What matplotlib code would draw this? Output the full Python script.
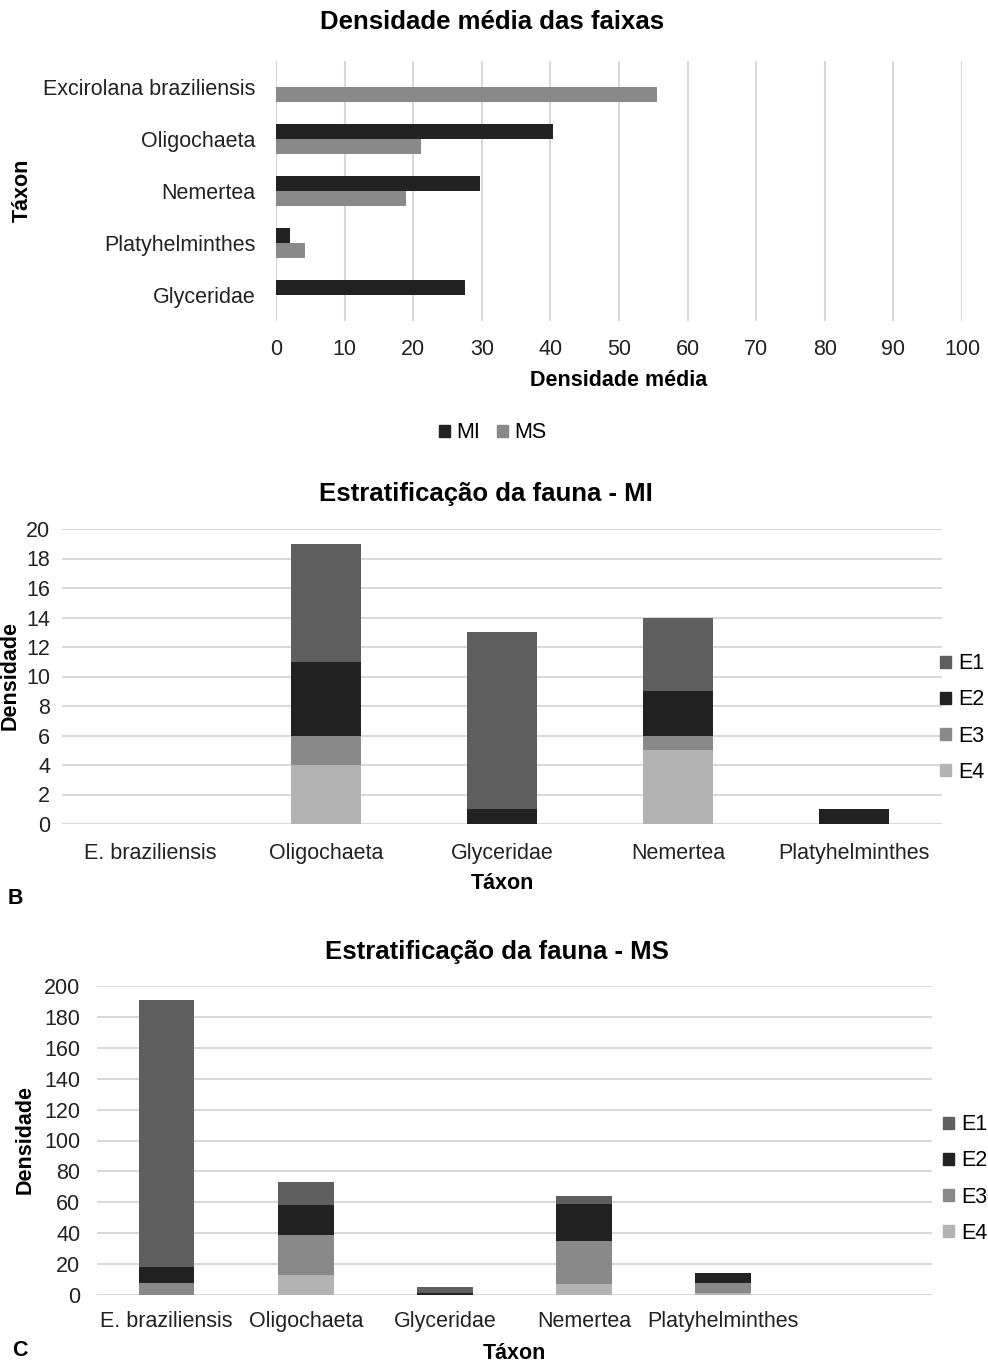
import matplotlib
matplotlib.use("Agg")
import matplotlib.pyplot as plt
from matplotlib.patches import Patch
import numpy as np

plt.rcParams['font.family'] = ['Liberation Sans', 'DejaVu Sans']

# ---- Data: chart A (mean density per band) ----
taxa_a = ["Excirolana braziliensis", "Oligochaeta", "Nemertea", "Platyhelminthes", "Glyceridae"]
mi_a = [0, 40.4, 29.8, 2.1, 27.6]
ms_a = [55.5, 21.1, 18.9, 4.3, 0]
xticks_a = [0, 10, 20, 30, 40, 50, 60, 70, 80, 90, 100]

# ---- Data: chart B (MI stratification) ----
taxa_b = ["E. braziliensis", "Oligochaeta", "Glyceridae", "Nemertea", "Platyhelminthes"]
b_e4 = [0, 4, 0, 5, 0]
b_e3 = [0, 2, 0, 1, 0]
b_e2 = [0, 5, 1, 3, 1]
b_e1 = [0, 8, 12, 5, 0]
yticks_b = [0, 2, 4, 6, 8, 10, 12, 14, 16, 18, 20]

# ---- Data: chart C (MS stratification) ----
taxa_c = ["E. braziliensis", "Oligochaeta", "Glyceridae", "Nemertea", "Platyhelminthes", ""]
c_e4 = [0, 13, 0, 7, 1, 0]
c_e3 = [8, 26, 0, 28, 7, 0]
c_e2 = [10, 19, 1, 24, 6, 0]
c_e1 = [173, 15, 4, 5, 0, 0]
yticks_c = [0, 20, 40, 60, 80, 100, 120, 140, 160, 180, 200]

series_names = ["E1", "E2", "E3", "E4"]
colors = {"E1": "#5f5f5f", "E2": "#222222", "E3": "#898989", "E4": "#b3b3b3",
          "MI": "#222222", "MS": "#898989"}
GRID = "#d9d9d9"
TICK_FS = 15.5
TITLE_FS = 18.5
LABEL_FS = 15.5

W, H = 988, 1364
fig = plt.figure(figsize=(W / 100, H / 100), dpi=100)


def ax_px(left, top, right, bottom):
    return fig.add_axes([left / W, 1 - bottom / H, (right - left) / W, (bottom - top) / H])


def clean(ax):
    for s in ax.spines.values():
        s.set_visible(False)
    ax.tick_params(length=0, labelsize=TICK_FS, colors="#222222")


# ---------------- Chart A ----------------
axA = ax_px(276, 61, 962, 321)
clean(axA)
y = np.arange(len(taxa_a))
bh = 0.28
axA.barh(y - bh / 2, mi_a, height=bh, color=colors["MI"], label="MI", zorder=3)
axA.barh(y + bh / 2, ms_a, height=bh, color=colors["MS"], label="MS", zorder=3)
axA.set_ylim(len(taxa_a) - 0.5, -0.5)
axA.set_xlim(0, 100)
axA.set_xticks(xticks_a)
axA.set_yticks(y)
axA.set_yticklabels(taxa_a)
axA.xaxis.grid(True, color=GRID, lw=1.5, zorder=0)
axA.set_axisbelow(True)
axA.tick_params(axis="x", pad=13)
axA.tick_params(axis="y", pad=14.5)
axA.set_xlabel("Densidade média", fontsize=LABEL_FS, fontweight="bold", labelpad=7)
fig.text(22 / W, 1 - 190 / H, "Táxon", rotation=90, fontsize=LABEL_FS, fontweight="bold",
         ha="center", va="center")
fig.text(492 / W, 1 - 22 / H, "Densidade média das faixas", fontsize=TITLE_FS,
         fontweight="bold", ha="center", va="center")
hA = [Patch(color=colors["MI"], label="MI"), Patch(color=colors["MS"], label="MS")]
fig.legend(handles=hA, loc="center", bbox_to_anchor=(493 / W, 1 - 433 / H), ncol=2,
           frameon=False, fontsize=TICK_FS, handlelength=0.5, handleheight=0.5,
           handletextpad=0.3, columnspacing=0.8, borderpad=0, borderaxespad=0)


def stacked(ax, taxa, layers, ymax, yticks, xpad, ypad):
    clean(ax)
    x = np.arange(len(taxa))
    bottom = np.zeros(len(taxa))
    handles = []
    for name in ["E4", "E3", "E2", "E1"]:
        vals = np.array(layers[name], dtype=float)
        ax.bar(x, vals, width=0.4, bottom=bottom, color=colors[name], zorder=3)
        bottom += vals
    ax.set_xlim(-0.5, len(taxa) - 0.5)
    ax.set_ylim(0, ymax)
    ax.set_yticks(yticks)
    ax.set_xticks(x)
    ax.set_xticklabels(taxa)
    ax.yaxis.grid(True, color=GRID, lw=1.5, zorder=0)
    ax.set_axisbelow(True)
    ax.tick_params(axis="x", pad=xpad)
    ax.tick_params(axis="y", pad=ypad)
    for name in series_names:
        handles.append(Patch(color=colors[name], label=name))
    return handles


LEG_KW = dict(frameon=False, fontsize=TICK_FS, handlelength=0.5, handleheight=0.5,
              handletextpad=0.35, labelspacing=0.7, borderpad=0, borderaxespad=0)

# ---------------- Chart B ----------------
axB = ax_px(62, 529, 942, 824)
hB = stacked(axB, taxa_b, {"E1": b_e1, "E2": b_e2, "E3": b_e3, "E4": b_e4}, 20, yticks_b,
             xpad=13.5, ypad=8.5)
axB.set_xlabel("Táxon", fontsize=LABEL_FS, fontweight="bold", labelpad=7)
fig.text(10 / W, 1 - 676 / H, "Densidade", rotation=90, fontsize=LABEL_FS, fontweight="bold",
         ha="center", va="center")
fig.text(486 / W, 1 - 494 / H, "Estratificação da fauna - MI", fontsize=TITLE_FS,
         fontweight="bold", ha="center", va="center")
fig.legend(handles=hB, loc="center left", bbox_to_anchor=(940 / W, 1 - 718 / H), **LEG_KW)
fig.text(8 / W, 1 - 899 / H, "B", fontsize=TICK_FS, fontweight="bold", ha="left", va="center")

# ---------------- Chart C ----------------
axC = ax_px(97, 986, 932, 1295)
hC = stacked(axC, taxa_c, {"E1": c_e1, "E2": c_e2, "E3": c_e3, "E4": c_e4}, 200, yticks_c,
             xpad=11.5, ypad=12)
axC.set_xlabel("Táxon", fontsize=LABEL_FS, fontweight="bold", labelpad=8)
fig.text(25 / W, 1 - 1140 / H, "Densidade", rotation=90, fontsize=LABEL_FS, fontweight="bold",
         ha="center", va="center")
fig.text(497 / W, 1 - 952 / H, "Estratificação da fauna - MS", fontsize=TITLE_FS,
         fontweight="bold", ha="center", va="center")
fig.legend(handles=hC, loc="center left", bbox_to_anchor=(943 / W, 1 - 1179 / H), **LEG_KW)
fig.text(12 / W, 1 - 1350 / H, "C", fontsize=TICK_FS, fontweight="bold", ha="left", va="center")

fig.savefig("out.png", dpi=100)
